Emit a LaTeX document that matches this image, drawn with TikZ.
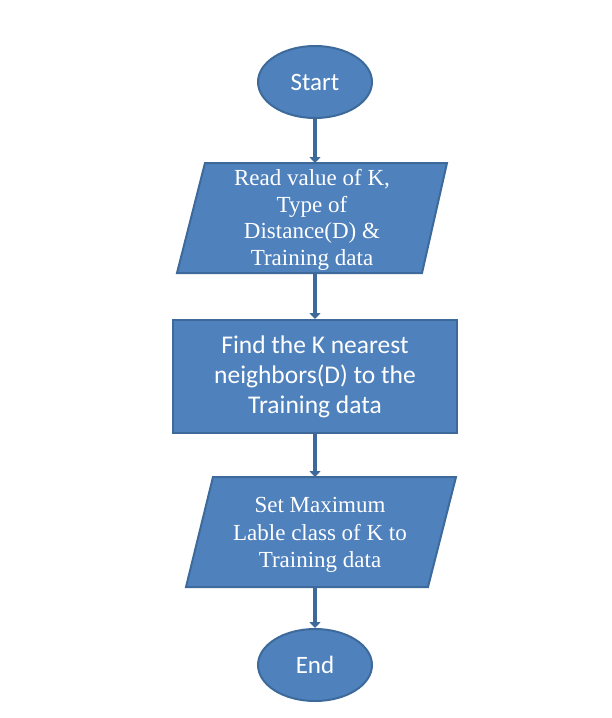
\documentclass[tikz,border=0pt]{standalone}
\usepackage{fontspec}
\setmainfont{Liberation Serif}
\newfontfamily\calib{Carlito}
\usetikzlibrary{arrows.meta,shapes.geometric}
\definecolor{boxfill}{HTML}{4F81BD}
\definecolor{boxline}{HTML}{3D6A9A}
\begin{document}
\begin{tikzpicture}[x=1pt,y=-1pt,
  shapebox/.style={fill=boxfill, draw=boxline, line width=2pt},
  term/.style={shapebox, ellipse, minimum width=114pt, minimum height=72pt, inner sep=0pt,
    text=white, font=\calib\fontsize{25}{30}\selectfont},
  procbox/.style={shapebox, rectangle, minimum width=284pt, minimum height=113pt, inner sep=0pt,
    text=white, align=center, font=\calib\fontsize{25.5}{30}\selectfont},
  iotext/.style={inner sep=0pt, text=white, align=center, font=\fontsize{23}{26.5}\selectfont},
  conn/.style={draw=boxline, line width=4.5pt, -{Triangle[width=11pt,length=6pt]}}]
\useasboundingbox (0,0) rectangle (612,718);
\fill[white] (0,0) rectangle (612,718);

\node[term] (start) at (315,82) {Start};

\draw[shapebox] (205,163) -- (447,163) -- (422,273) -- (177,273) -- cycle;
\coordinate (readT) at (315,163);
\coordinate (readB) at (315,273);
\node[iotext] (read) at (312,220) {Read value of K,\\Type of\\Distance(D) \&\\Training data};

\node[procbox] (find) at (315,376.5) {Find the K nearest\\neighbors(D) to the\\Training data};

\draw[shapebox] (213,477) -- (456,477) -- (428,587) -- (186,587) -- cycle;
\coordinate (setT) at (315,477);
\coordinate (setB) at (315,587);
\node[iotext, font=\fontsize{23}{27.5}\selectfont] (set) at (320,535) {Set Maximum\\Lable class of K to\\Training data};

\node[term] (end) at (315,665) {End};

\draw[conn] (start) -- (readT);
\draw[conn] (readB) -- (find);
\draw[conn] (find) -- (setT);
\draw[conn] (setB) -- (end);
\end{tikzpicture}
\end{document}
